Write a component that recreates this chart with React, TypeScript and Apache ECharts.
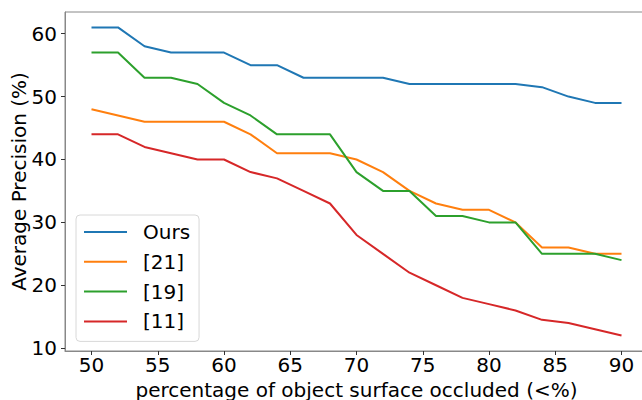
import React, { useEffect, useRef } from "react";
import * as echarts from "echarts";

const occluded = [50, 52, 54, 56, 58, 60, 62, 64, 66, 68, 70, 72, 74, 76, 78, 80, 82, 84, 86, 88, 90];
const ours = [61, 61, 58, 57, 57, 57, 55, 55, 53, 53, 53, 53, 52, 52, 52, 52, 52, 51.5, 50, 49, 49];
const ref21 = [48, 47, 46, 46, 46, 46, 44, 41, 41, 41, 40, 38, 35, 33, 32, 32, 30, 26, 26, 25, 25];
const ref19 = [57, 57, 53, 53, 52, 49, 47, 44, 44, 44, 38, 35, 35, 31, 31, 30, 30, 25, 25, 25, 24];
const ref11 = [44, 44, 42, 41, 40, 40, 38, 37, 35, 33, 28, 25, 22, 20, 18, 17, 16, 14.5, 14, 13, 12];
const xTicks = [50, 55, 60, 65, 70, 75, 80, 85, 90];
const yTicks = [10, 20, 30, 40, 50, 60];

const seriesNames = ["Ours", "[21]", "[19]", "[11]"];
const seriesValues = [ours, ref21, ref19, ref11];
const colors = ["#1f77b4", "#ff7f0e", "#2ca02c", "#d62728"];

const FONT = "'DejaVu Sans', sans-serif";
const FS = 20;

export default function App() {
  const ref = useRef<HTMLDivElement>(null);
  useEffect(() => {
    if (!ref.current) return;
    const chart = echarts.init(ref.current, null, { renderer: "svg" });
    chart.setOption({
      animation: false,
      textStyle: { fontFamily: FONT },
      grid: {
        left: 65,
        top: 12,
        right: -6,
        bottom: 49,
        outerBoundsMode: "none",
        containLabel: false,
        show: true,
        borderColor: "#888",
        borderWidth: 1,
        backgroundColor: "transparent",
      },
      legend: {
        left: 76,
        top: 215,
        orient: "vertical",
        data: seriesNames,
        itemWidth: 43,
        itemHeight: 20,
        itemGap: 9.8,
        padding: [7, 9, 10, 7],
        backgroundColor: "rgba(255,255,255,0.85)",
        borderColor: "#d8d8d8",
        borderWidth: 1,
        borderRadius: 4,
        itemStyle: { opacity: 0, borderWidth: 0 },
        lineStyle: { width: 2 },
        textStyle: { fontFamily: FONT, fontSize: FS, color: "#000", padding: [0, 0, 0, 11] },
      },
      xAxis: {
        type: "value",
        min: 48,
        max: 92,
        name: "percentage of object surface occluded (<%)",
        nameLocation: "middle",
        nameGap: 29,
        nameMoveOverlap: false,
        nameTextStyle: { fontFamily: FONT, fontSize: FS, color: "#000", verticalAlign: "top" },
        axisLine: { show: true, lineStyle: { color: "#888", width: 1 } },
        axisTick: { show: true, inside: false, length: 4, customValues: xTicks, lineStyle: { color: "#333" } },
        axisLabel: { customValues: xTicks, fontSize: FS, color: "#000", margin: 4, fontFamily: FONT },
        splitLine: { show: false },
      },
      yAxis: {
        type: "value",
        min: 9.55,
        max: 63.45,
        name: "Average Precision (%)",
        nameLocation: "middle",
        nameGap: 36,
        nameMoveOverlap: false,
        nameRotate: 90,
        nameTextStyle: { fontFamily: FONT, fontSize: FS, color: "#000" },
        axisLine: { show: true, lineStyle: { color: "#888", width: 1 } },
        axisTick: { show: true, inside: false, length: 4, customValues: yTicks, lineStyle: { color: "#333" } },
        axisLabel: { customValues: yTicks, fontSize: FS, color: "#000", margin: 8, fontFamily: FONT },
        splitLine: { show: false },
      },
      series: seriesNames.map((name, i) => ({
        name,
        type: "line",
        data: occluded.map((x, j) => [x, seriesValues[i][j]]),
        symbol: "none",
        color: colors[i],
        lineStyle: { width: 2, color: colors[i] },
        z: 2 + i,
      })),
    });
    return () => chart.dispose();
  }, []);
  return (
    <div
      ref={ref}
      style={{ position: "fixed", left: 0, top: 0, width: 642, height: 400, background: "#fff" }}
    />
  );
}
